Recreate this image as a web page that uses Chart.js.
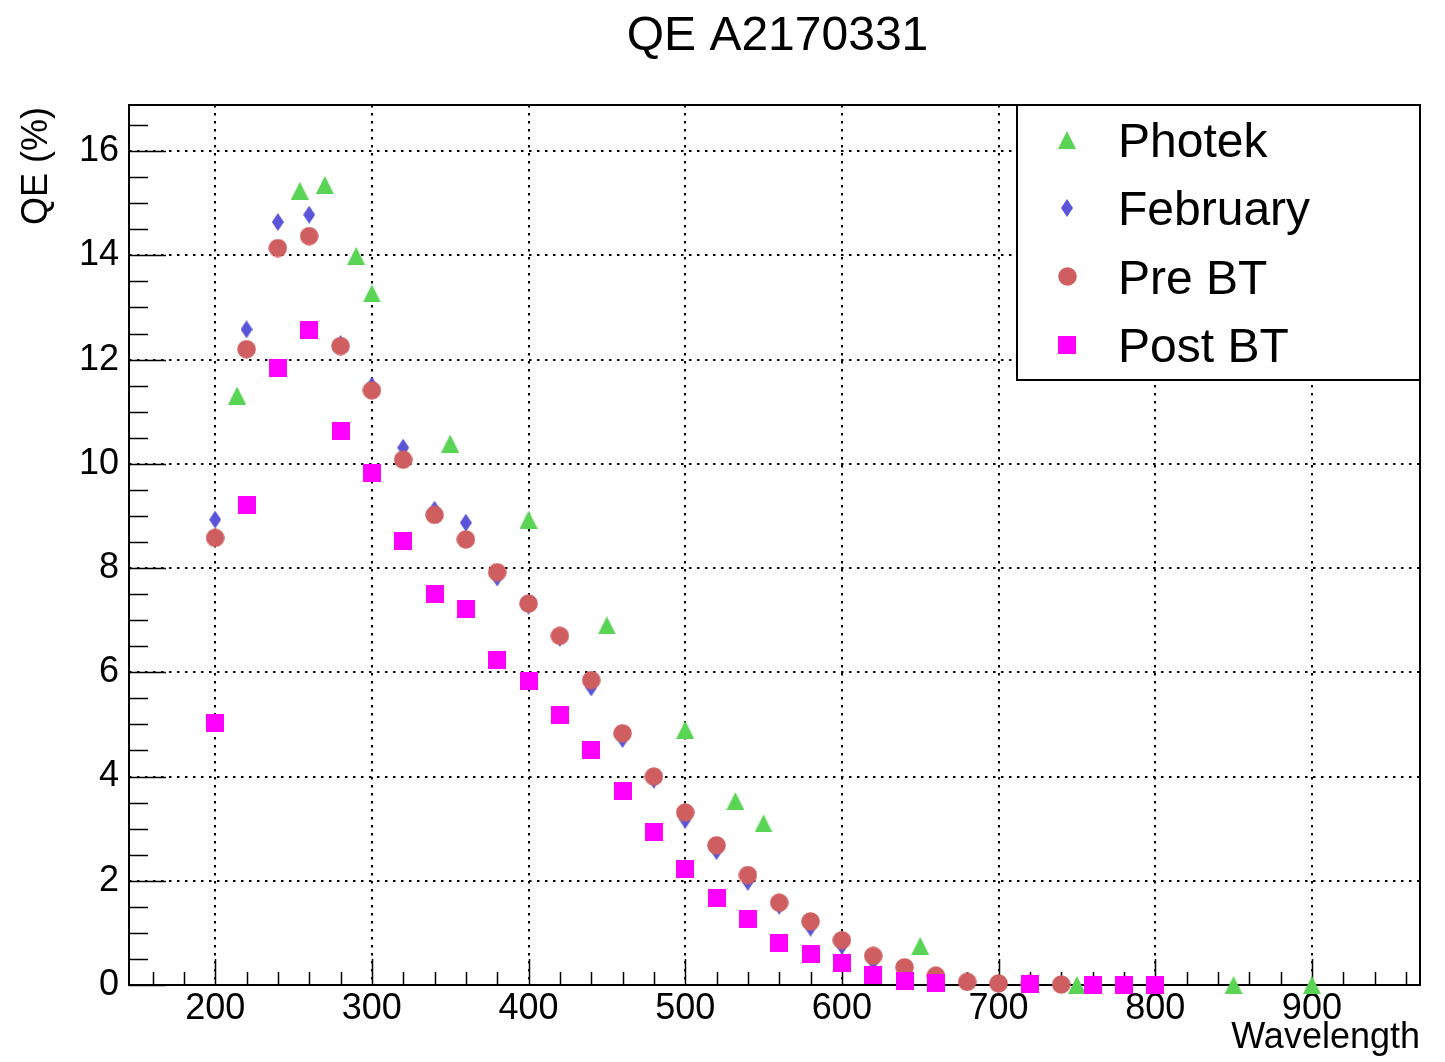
<!DOCTYPE html>
<html>
<head>
<meta charset="utf-8">
<title>QE A2170331</title>
<script src="https://cdn.jsdelivr.net/npm/chart.js@4.4.1/dist/chart.umd.min.js"></script>
<style>
  html, body { margin: 0; padding: 0; background: #fff; }
  #wrap { width: 1445px; height: 1062px; }
</style>
</head>
<body>
<div id="wrap"><canvas id="qe" width="1445" height="1062"></canvas></div>
<script>
// wavelength (nm) and quantum efficiency (%) per measurement
const photekWl = [214, 254, 270, 290, 300, 350, 400, 450, 500, 532, 550, 650, 750, 850, 900];
const photekQE = [11.31, 15.24, 15.35, 13.99, 13.27, 10.39, 8.93, 6.90, 4.90, 3.53, 3.10, 0.75, 0, 0, 0];

const febWl = [200, 220, 240, 260, 280, 300, 320, 340, 360, 380, 400, 420, 440, 460, 480, 500, 520, 540, 560, 580, 600, 620, 640, 660, 680, 700];
const febQE = [8.93, 12.58, 14.64, 14.78, 12.30, 11.50, 10.31, 9.12, 8.87, 7.82, 7.28, 6.66, 5.71, 4.72, 3.94, 3.17, 2.57, 1.98, 1.52, 1.10, 0.75, 0.45, 0.28, 0.15, 0.05, 0.02];

const preWl = [200, 220, 240, 260, 280, 300, 320, 340, 360, 380, 400, 420, 440, 460, 480, 500, 520, 540, 560, 580, 600, 620, 640, 660, 680, 700, 720, 740];
const preQE = [8.58, 12.20, 14.14, 14.37, 12.26, 11.41, 10.08, 9.02, 8.55, 7.92, 7.32, 6.70, 5.85, 4.83, 4.00, 3.31, 2.68, 2.11, 1.58, 1.22, 0.86, 0.56, 0.34, 0.18, 0.06, 0.03, 0.02, 0.01];

const postWl = [200, 220, 240, 260, 280, 300, 320, 340, 360, 380, 400, 420, 440, 460, 480, 500, 520, 540, 560, 580, 600, 620, 640, 660, 720, 760, 780, 800];
const postQE = [5.02, 9.21, 11.83, 12.57, 10.63, 9.82, 8.51, 7.50, 7.22, 6.23, 5.83, 5.18, 4.50, 3.72, 2.94, 2.23, 1.66, 1.26, 0.81, 0.59, 0.42, 0.20, 0.08, 0.03, 0.01, 0, 0, 0];

const seriesNames = ['Photek', 'February', 'Pre BT', 'Post BT'];

// axis ranges and tick labels
const xMin = 145, xMax = 969;
const yMin = 0, yMax = 16.885;
const xTicks = [200, 300, 400, 500, 600, 700, 800, 900];
const yTicks = [0, 2, 4, 6, 8, 10, 12, 14, 16];
const xMinorStep = 20;
const yMinorStep = 0.5;

const FONT = "'Liberation Sans', Arial, Helvetica, sans-serif";

// little canvases used as point styles (ROOT-like markers)
function makeMarker(shape, color) {
  const c = document.createElement('canvas');
  const g = c.getContext('2d');
  if (shape === 'diamond') { c.width = 12; c.height = 18; }
  else if (shape === 'circle') { c.width = 19; c.height = 19; }
  else { c.width = 18; c.height = 18; }
  g.fillStyle = color;
  g.beginPath();
  if (shape === 'triangle') {
    g.moveTo(0, 18); g.lineTo(18, 18); g.lineTo(9, 0);
  } else if (shape === 'diamond') {
    g.moveTo(6, 0); g.lineTo(12, 9); g.lineTo(6, 18); g.lineTo(0, 9);
  } else if (shape === 'circle') {
    g.arc(9.5, 9.5, 9.3, 0, Math.PI * 2);
  } else {
    g.rect(0, 0, 18, 18);
  }
  g.closePath();
  g.fill();
  return c;
}

const markers = [
  makeMarker('triangle', '#59d454'),
  makeMarker('diamond', '#5954d8'),
  makeMarker('circle', '#cf5e61'),
  makeMarker('square', '#ff00ff')
];

const toPoints = (xs, ys) => xs.map((v, i) => ({ x: v, y: ys[i] }));

const makeSet = (idx, xs, ys, order) => ({
  label: seriesNames[idx],
  data: toPoints(xs, ys),
  pointStyle: markers[idx],
  pointRadius: 9,
  pointHoverRadius: 9,
  showLine: false,
  clip: false,
  order: order
});

// frame, inside tick marks, title, axis titles and the legend box
const rootFrame = {
  id: 'rootFrame',
  beforeDatasetsDraw(chart) {
    const { ctx, chartArea: a, scales: { x, y } } = chart;
    ctx.save();
    ctx.strokeStyle = '#000';
    ctx.lineWidth = 1.5;
    ctx.beginPath();
    for (let v = Math.ceil(xMin / xMinorStep) * xMinorStep; v <= xMax; v += xMinorStep) {
      const px = Math.round(x.getPixelForValue(v)) + 0.5;
      const len = v % 100 === 0 ? 26 : 13;
      ctx.moveTo(px, a.bottom);
      ctx.lineTo(px, a.bottom - len);
    }
    for (let v = yMin; v <= yMax; v += yMinorStep) {
      const py = Math.round(y.getPixelForValue(v)) + 0.5;
      const len = v % 2 === 0 ? 37 : 19;
      ctx.moveTo(a.left, py);
      ctx.lineTo(a.left + len, py);
    }
    ctx.stroke();
    ctx.lineWidth = 2;
    ctx.strokeRect(a.left, a.top, a.right - a.left, a.bottom - a.top);
    ctx.restore();
  },
  afterDraw(chart) {
    const { ctx, chartArea: a } = chart;
    ctx.save();
    ctx.fillStyle = '#000';

    // title
    ctx.font = '48px ' + FONT;
    ctx.textAlign = 'center';
    ctx.textBaseline = 'alphabetic';
    ctx.fillText('QE A2170331', (a.left + a.right) / 2 + 3, 50);

    // axis titles
    ctx.font = '36px ' + FONT;
    ctx.textAlign = 'right';
    ctx.fillText('Wavelength', a.right, 1048);
    ctx.save();
    ctx.translate(47, a.top + 2);
    ctx.rotate(-Math.PI / 2);
    ctx.fillText('QE (%)', 0, 0);
    ctx.restore();

    // legend
    const lx = 1017, ly = a.top, lw = a.right - lx, lh = 275;
    ctx.fillStyle = '#fff';
    ctx.fillRect(lx, ly, lw, lh);
    ctx.strokeStyle = '#000';
    ctx.lineWidth = 2;
    ctx.strokeRect(lx, ly, lw, lh);
    ctx.font = '48px ' + FONT;
    ctx.textAlign = 'left';
    ctx.fillStyle = '#000';
    seriesNames.forEach((name, i) => {
      const cy = ly + 35 + i * 68.4;
      const m = markers[i];
      ctx.drawImage(m, Math.round(1067 - m.width / 2), Math.round(cy - m.height / 2));
      ctx.fillText(name, 1118, cy + 17);
    });
    ctx.restore();
  }
};

Chart.defaults.font.family = FONT;
Chart.defaults.color = '#000';

new Chart(document.getElementById('qe'), {
  type: 'scatter',
  data: {
    datasets: [
      makeSet(0, photekWl, photekQE, 3),
      makeSet(1, febWl, febQE, 2),
      makeSet(2, preWl, preQE, 1),
      makeSet(3, postWl, postQE, 0)
    ]
  },
  options: {
    responsive: false,
    animation: false,
    devicePixelRatio: 1,
    layout: { padding: { left: 0, right: 25, top: 105, bottom: 0 } },
    plugins: {
      legend: { display: false },
      title: { display: false },
      tooltip: { enabled: false }
    },
    scales: {
      x: {
        type: 'linear',
        min: xMin,
        max: xMax,
        afterBuildTicks: s => { s.ticks = xTicks.map(v => ({ value: v })); },
        afterFit: s => { s.height = 77; },
        ticks: { font: { size: 36 }, color: '#000', padding: 2, maxRotation: 0, autoSkip: false },
        grid: { color: '#000', lineWidth: 2, drawTicks: false },
        border: { display: false, dash: [2.5, 5.5] }
      },
      y: {
        type: 'linear',
        min: yMin,
        max: yMax,
        afterBuildTicks: s => { s.ticks = yTicks.map(v => ({ value: v })); },
        afterFit: s => { s.width = 129; },
        ticks: { font: { size: 36 }, color: '#000', padding: 10, autoSkip: false },
        grid: { color: '#000', lineWidth: 2, drawTicks: false },
        border: { display: false, dash: [2.5, 5.5] }
      }
    }
  },
  plugins: [rootFrame]
});
</script>
</body>
</html>
